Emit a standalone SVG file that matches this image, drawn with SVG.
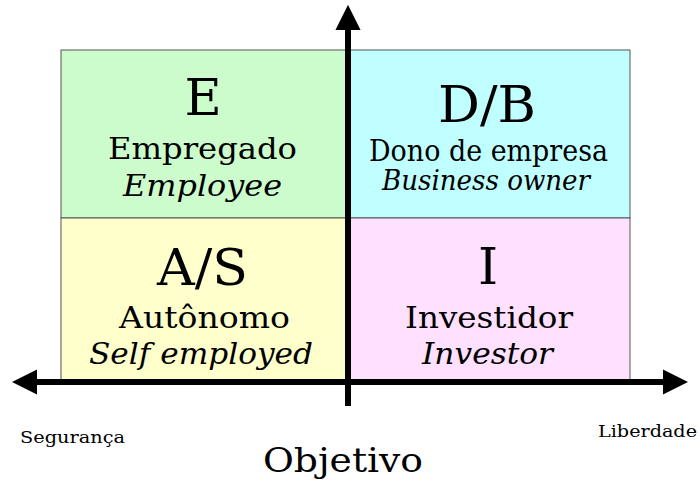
<svg xmlns="http://www.w3.org/2000/svg" width="700" height="481" viewBox="0 0 700 481">
  <style>
    text { font-family: "DejaVu Serif", "Liberation Serif", serif; fill: #000; text-anchor: middle; }
    .big { font-size: 51px; }
    .pt { font-size: 30px; }
    .en { font-size: 29px; font-style: italic; }
    .small { font-size: 17.5px; text-anchor: start; }
    .cell { stroke: #555; stroke-width: 1; }
    .axis { stroke: #000; stroke-width: 6; fill: none; }
  </style>
  <defs>
    <marker id="head" viewBox="0 0 10 10" refX="2" refY="5" markerWidth="4.2" markerHeight="4.2" orient="auto" markerUnits="strokeWidth">
      <path d="M0,0 L10,5 L0,10 z" fill="#000"/>
    </marker>
  </defs>

  <g id="E">
    <rect class="cell" x="61" y="50" width="287" height="168" fill="#ccfccc"/>
    <text class="big" x="203" y="115">E</text>
    <text class="pt" x="202.5" y="159" textLength="189" lengthAdjust="spacingAndGlyphs">Empregado</text>
    <text class="en" x="202.5" y="196" textLength="159" lengthAdjust="spacingAndGlyphs">Employee</text>
  </g>
  <g id="DB">
    <rect class="cell" x="348" y="50" width="282" height="168" fill="#c0ffff"/>
    <text class="big" x="487" y="122" textLength="98" lengthAdjust="spacingAndGlyphs">D/B</text>
    <text class="pt" x="488.5" y="161" style="font-size:29px" textLength="239" lengthAdjust="spacingAndGlyphs">Dono de empresa</text>
    <text class="en" x="486" y="190" style="font-size:27px" textLength="208" lengthAdjust="spacingAndGlyphs">Business owner</text>
  </g>
  <g id="AS">
    <rect class="cell" x="61" y="218" width="287" height="164" fill="#ffffcc"/>
    <text class="big" x="202.5" y="285" textLength="91" lengthAdjust="spacingAndGlyphs">A/S</text>
    <text class="pt" x="204.5" y="328" textLength="171" lengthAdjust="spacingAndGlyphs">Autônomo</text>
    <text class="en" x="201" y="364" textLength="224" lengthAdjust="spacingAndGlyphs">Self employed</text>
  </g>
  <g id="I">
    <rect class="cell" x="348" y="218" width="282" height="164" fill="#ffe0ff"/>
    <text class="big" x="488" y="284">I</text>
    <text class="pt" x="489" y="328" textLength="168" lengthAdjust="spacingAndGlyphs">Investidor</text>
    <text class="en" x="487.5" y="364" textLength="131" lengthAdjust="spacingAndGlyphs">Investor</text>
  </g>

  <g id="connectors">
    <line class="axis" x1="348" y1="406" x2="348" y2="25" marker-end="url(#head)"/>
    <line class="axis" x1="350" y1="382" x2="32" y2="382" marker-end="url(#head)"/>
    <line class="axis" x1="346" y1="382" x2="668" y2="382" marker-end="url(#head)"/>
  </g>

  <g id="labels">
    <text class="small" x="20" y="443" textLength="105" lengthAdjust="spacingAndGlyphs">Segurança</text>
    <text class="small" x="598" y="437" textLength="99" lengthAdjust="spacingAndGlyphs">Liberdade</text>
    <text x="343" y="472" style="font-size:34px" textLength="160" lengthAdjust="spacingAndGlyphs">Objetivo</text>
  </g>
</svg>
